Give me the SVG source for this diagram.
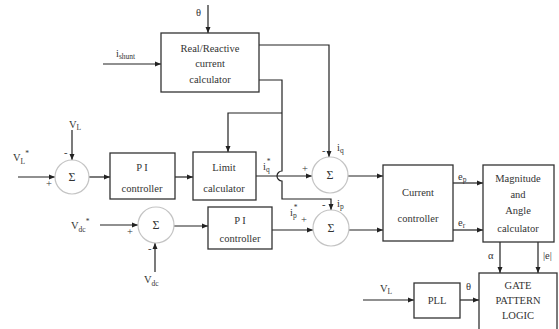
<svg xmlns="http://www.w3.org/2000/svg" width="559" height="329" viewBox="0 0 559 329">
<style>
.box{fill:#fff;stroke:#333;stroke-width:1.3}
.sum{fill:#fff;stroke:#c4c4c4;stroke-width:1.2}
.ln{fill:none;stroke:#222;stroke-width:1.2}
text{font-family:"Liberation Serif","Times New Roman",serif;font-size:10.5px;fill:#333}
.c{text-anchor:middle}
.sg{font-size:12px}
.sub{font-size:7.5px}
</style>
<defs>
<marker id="ar" markerWidth="6" markerHeight="6" refX="6" refY="3" orient="auto" markerUnits="userSpaceOnUse">
<path d="M0,0.5 L6,3 L0,5.5 Z" fill="#222"/>
</marker>
</defs>
<rect width="559" height="329" fill="#fff"/>
<g id="connectors">
<line class="ln" x1="208" y1="5" x2="208" y2="33" marker-end="url(#ar)"/>
<line class="ln" x1="103" y1="64" x2="161" y2="64" marker-end="url(#ar)"/>
<polyline class="ln" points="259,45 329,45 329,157" marker-end="url(#ar)"/>
<path class="ln" d="M259,80 H282 V171 A5,5 0 0 0 282,181 V199 H331 V210" marker-end="url(#ar)"/>
<polyline class="ln" points="282,113 228,113 228,152" marker-end="url(#ar)"/>
<line class="ln" x1="72" y1="130" x2="72" y2="160" marker-end="url(#ar)"/>
<line class="ln" x1="18" y1="177" x2="55" y2="177" marker-end="url(#ar)"/>
<line class="ln" x1="89" y1="177" x2="110" y2="177" marker-end="url(#ar)"/>
<line class="ln" x1="175" y1="177" x2="193" y2="177" marker-end="url(#ar)"/>
<line class="ln" x1="256" y1="176" x2="312" y2="176" marker-end="url(#ar)"/>
<line class="ln" x1="348" y1="176" x2="383" y2="176" marker-end="url(#ar)"/>
<line class="ln" x1="272" y1="230" x2="313" y2="230" marker-end="url(#ar)"/>
<line class="ln" x1="349" y1="230" x2="383" y2="230" marker-end="url(#ar)"/>
<line class="ln" x1="453" y1="183" x2="483" y2="183" marker-end="url(#ar)"/>
<line class="ln" x1="453" y1="230" x2="483" y2="230" marker-end="url(#ar)"/>
<line class="ln" x1="500" y1="242" x2="500" y2="273" marker-end="url(#ar)"/>
<line class="ln" x1="538" y1="242" x2="538" y2="273" marker-end="url(#ar)"/>
<line class="ln" x1="363" y1="300" x2="414" y2="300" marker-end="url(#ar)"/>
<line class="ln" x1="460" y1="300" x2="479" y2="300" marker-end="url(#ar)"/>
<line class="ln" x1="100" y1="225" x2="138" y2="225" marker-end="url(#ar)"/>
<line class="ln" x1="155" y1="272" x2="155" y2="243" marker-end="url(#ar)"/>
<line class="ln" x1="174" y1="226" x2="208" y2="226" marker-end="url(#ar)"/>
</g>
<g id="labels">
<text x="196" y="16">θ</text>
<text x="116" y="57">i<tspan class="sub" dy="2">shunt</tspan></text>
<text x="69" y="128">V<tspan class="sub" dy="2">L</tspan></text>
<text x="13" y="161">V<tspan class="sub" dy="3">L</tspan><tspan class="sub" dy="-8">*</tspan></text>
<text x="46" y="187">+</text>
<text x="64" y="156">-</text>
<text x="263" y="170">i<tspan class="sub" dy="2">q</tspan><tspan class="sub" dx="-3" dy="-8">*</tspan></text>
<text x="302" y="172">+</text>
<text x="337" y="151">i<tspan class="sub" dy="2">q</tspan></text>
<text x="322" y="154">-</text>
<text x="337" y="207">i<tspan class="sub" dy="2">p</tspan></text>
<text x="322" y="208">-</text>
<text x="290" y="216">i<tspan class="sub" dy="2">p</tspan><tspan class="sub" dx="-3" dy="-8">*</tspan></text>
<text x="301" y="223">+</text>
<text x="458" y="180">e<tspan class="sub" dy="2">p</tspan></text>
<text x="458" y="226">e<tspan class="sub" dy="2">r</tspan></text>
<text x="488" y="259">α</text>
<text x="543" y="259">|e|</text>
<text x="380" y="292">V<tspan class="sub" dy="2">L</tspan></text>
<text x="466" y="290">θ</text>
<text x="71" y="229">V<tspan class="sub" dy="3">dc</tspan><tspan class="sub" dy="-8">*</tspan></text>
<text x="127" y="235">+</text>
<text x="148" y="252">-</text>
<text x="144" y="283">V<tspan class="sub" dy="3">dc</tspan></text>
</g>
<g id="realreactive">
<rect class="box" x="161" y="33" width="98" height="59"/>
<text class="c" x="210" y="52">Real/Reactive</text>
<text class="c" x="210" y="67">current</text>
<text class="c" x="210" y="83">calculator</text>
</g>
<g id="sum1">
<circle class="sum" cx="72" cy="177" r="17"/>
<text class="c sg" x="72" y="181">Σ</text>
</g>
<g id="pi1">
<rect class="box" x="110" y="153" width="65" height="46"/>
<text class="c" x="142" y="171">P I</text>
<text class="c" x="142" y="192">controller</text>
</g>
<g id="limit">
<rect class="box" x="193" y="152" width="63" height="48"/>
<text class="c" x="224" y="171">Limit</text>
<text class="c" x="224" y="192">calculator</text>
</g>
<g id="sum2">
<circle class="sum" cx="330" cy="175" r="18"/>
<text class="c sg" x="330" y="179">Σ</text>
</g>
<g id="sum3">
<circle class="sum" cx="331" cy="228" r="18"/>
<text class="c sg" x="331" y="232">Σ</text>
</g>
<g id="sum4">
<circle class="sum" cx="156" cy="225" r="18"/>
<text class="c sg" x="156" y="229">Σ</text>
</g>
<g id="pi2">
<rect class="box" x="208" y="207" width="64" height="42"/>
<text class="c" x="240" y="224">P I</text>
<text class="c" x="240" y="242">controller</text>
</g>
<g id="current">
<rect class="box" x="383" y="165" width="70" height="76"/>
<text class="c" x="418" y="196">Current</text>
<text class="c" x="418" y="222">controller</text>
</g>
<g id="magnitude">
<rect class="box" x="483" y="165" width="71" height="77"/>
<text class="c" x="518" y="182">Magnitude</text>
<text class="c" x="518" y="198">and</text>
<text class="c" x="518" y="214">Angle</text>
<text class="c" x="518" y="232">calculator</text>
</g>
<g id="pll">
<rect class="box" x="414" y="283" width="46" height="35"/>
<text class="c" x="437" y="304">PLL</text>
</g>
<g id="gate">
<rect class="box" x="479" y="273" width="78" height="62"/>
<text class="c" x="518" y="289">GATE</text>
<text class="c" x="518" y="304">PATTERN</text>
<text class="c" x="518" y="319">LOGIC</text>
</g>
</svg>
